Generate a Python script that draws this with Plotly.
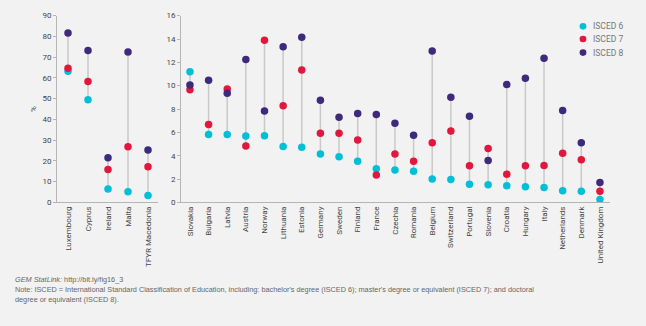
import plotly.graph_objects as go

# Left panel
left_countries = ["Luxembourg", "Cyprus", "Ireland", "Malta", "TFYR Macedonia"]
left_isced6 = [63.2, 49.5, 6.4, 5.1, 3.3]
left_isced7 = [64.6, 58.3, 15.8, 26.8, 17.2]
left_isced8 = [81.6, 73.2, 21.5, 72.5, 25.3]

# Right panel
right_countries = ["Slovakia", "Bulgaria", "Latvia", "Austria", "Norway", "Lithuania", "Estonia",
                   "Germany", "Sweden", "Finland", "France", "Czechia", "Romania", "Belgium",
                   "Switzerland", "Portugal", "Slovenia", "Croatia", "Hungary", "Italy",
                   "Netherlands", "Denmark", "United Kingdom"]
right_isced6 = [11.2, 5.82, 5.82, 5.68, 5.70, 4.79, 4.73, 4.15, 3.90, 3.53, 2.89, 2.78, 2.67,
                2.00, 1.95, 1.56, 1.50, 1.42, 1.34, 1.28, 1.00, 0.95, 0.25]
right_isced7 = [9.65, 6.68, 9.71, 4.84, 13.9, 8.29, 11.35, 5.93, 5.93, 5.34, 2.34, 4.15, 3.53,
                5.12, 6.12, 3.14, 4.62, 2.42, 3.14, 3.17, 4.20, 3.65, 0.95]
right_isced8 = [10.05, 10.46, 9.35, 12.24, 7.82, 13.33, 14.16, 8.76, 7.29, 7.62, 7.54, 6.79, 5.76,
                12.97, 9.01, 7.37, 3.59, 10.10, 10.63, 12.35, 7.87, 5.12, 1.70]

series_names = ["ISCED 6", "ISCED 7", "ISCED 8"]
colors = ["#00bfd6", "#e3173e", "#3e2a7c"]
FONT = "Roboto, sans-serif"
W, H = 646, 326

fig = go.Figure()


def add_panel(cats, s6, s7, s8, xa, ya):
    lx, ly = [], []
    for c, a, b, d in zip(cats, s6, s7, s8):
        lx += [c, c, None]
        ly += [min(a, b, d), max(a, b, d), None]
    fig.add_trace(go.Scatter(x=lx, y=ly, mode="lines", line=dict(color="#c9c9c9", width=1.5),
                             showlegend=False, hoverinfo="skip", xaxis=xa, yaxis=ya))
    for name, vals, col in zip(series_names, [s6, s7, s8], colors):
        fig.add_trace(go.Scatter(x=cats, y=vals, mode="markers", name=name,
                                 marker=dict(color=col, size=7.5, line=dict(width=0)),
                                 showlegend=False, xaxis=xa, yaxis=ya))


add_panel(left_countries, left_isced6, left_isced7, left_isced8, "x", "y")
add_panel(right_countries, right_isced6, right_isced7, right_isced8, "x2", "y2")

ybot = (H - 204) / H
ytop = (H - 12) / H

axis_common = dict(showline=True, linecolor="#b5b5b5", linewidth=1, showgrid=False, zeroline=False,
                   tickfont=dict(family=FONT, size=8, color="#444444"))

fig.update_layout(
    width=W, height=H,
    margin=dict(l=0, r=0, t=0, b=0),
    paper_bgcolor="#f2f2f2", plot_bgcolor="#f2f2f2",
    font=dict(family=FONT, color="#444444"),
    showlegend=False,
    xaxis=dict(domain=[57 / W, 158 / W], range=[-0.55, 4.5], anchor="y", tickangle=-90,
               ticks="", **axis_common),
    yaxis=dict(domain=[ybot, ytop], range=[0, 90], dtick=10, anchor="x", ticks="outside",
               ticklen=3, tickcolor="#b5b5b5", **axis_common),
    xaxis2=dict(domain=[181 / W, 610 / W], range=[-0.48, 22.54], anchor="y2", tickangle=-90,
                ticks="", **axis_common),
    yaxis2=dict(domain=[ybot, ytop], range=[0, 16], dtick=2, anchor="x2", ticks="outside",
                ticklen=3, tickcolor="#b5b5b5", **axis_common),
)

# y-axis title of the left panel
fig.add_annotation(text="%", xref="paper", yref="paper", x=33 / W, y=(H - 108) / H,
                   textangle=-90, showarrow=False, xanchor="center", yanchor="middle",
                   font=dict(family=FONT, size=8, color="#444444"))

# legend (drawn manually to match compact spacing)
legend_rows = [23, 36, 50]
for name, col, yp in zip(series_names, colors, legend_rows):
    yc = (H - yp) / H
    r = 3.4
    fig.add_shape(type="circle", xref="paper", yref="paper",
                  x0=(583 - r) / W, x1=(583 + r) / W, y0=yc - r / H, y1=yc + r / H,
                  fillcolor=col, line=dict(width=0))
    fig.add_annotation(text=name, xref="paper", yref="paper", x=591 / W, y=yc,
                       xanchor="left", yanchor="middle", showarrow=False,
                       font=dict(family=FONT, size=8.5, color="#777777"))

notes = [
    ("<i>GEM StatLink:</i> http://bit.ly/fig16_3", 283),
    ("Note: ISCED = International Standard Classification of Education, including: bachelor's degree (ISCED 6); master's degree or equivalent (ISCED 7); and doctoral", 294),
    ("degree or equivalent (ISCED 8).", 304),
]
for txt, yp in notes:
    fig.add_annotation(text=txt, xref="paper", yref="paper", x=13 / W, y=(H - yp) / H,
                       xanchor="left", yanchor="middle", showarrow=False,
                       font=dict(family="Liberation Sans, Arial, sans-serif", size=7.3, color="#666666"))

fig.write_html("out.html")
